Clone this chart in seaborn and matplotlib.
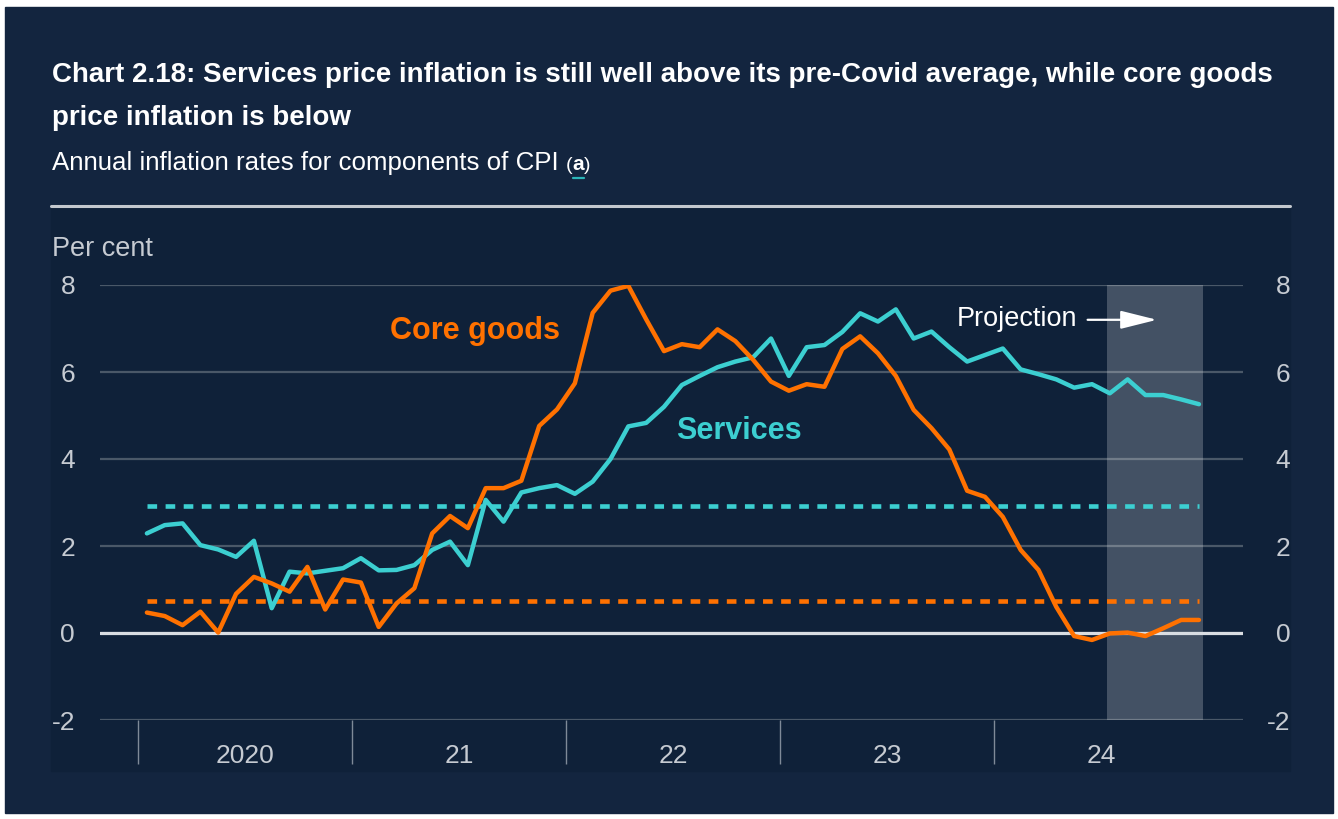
import matplotlib
matplotlib.use("Agg")
import numpy as np
import pandas as pd
import seaborn as sns
import matplotlib.pyplot as plt
from matplotlib.patches import Rectangle
from matplotlib.lines import Line2D

# monthly data, Jan 2020 - Dec 2024 (per cent)
services = [2.29, 2.48, 2.52, 2.02, 1.92, 1.75, 2.12, 0.57, 1.41, 1.37, 1.43, 1.49,
            1.72, 1.44, 1.45, 1.56, 1.91, 2.10, 1.56, 3.06, 2.56, 3.23, 3.33, 3.40,
            3.20, 3.48, 4.00, 4.75, 4.83, 5.20, 5.70, 5.91, 6.11, 6.24, 6.34, 6.77,
            5.91, 6.57, 6.62, 6.92, 7.35, 7.16, 7.44, 6.77, 6.93, 6.57, 6.24, 6.39,
            6.54, 6.06, 5.95, 5.83, 5.64, 5.72, 5.51, 5.83, 5.47, 5.47, 5.37, 5.26]
core_goods = [0.47, 0.39, 0.18, 0.49, 0.01, 0.90, 1.29, 1.14, 0.95, 1.52, 0.54, 1.23,
              1.16, 0.14, 0.68, 1.03, 2.29, 2.69, 2.41, 3.33, 3.33, 3.50, 4.76, 5.14,
              5.74, 7.36, 7.87, 7.98, 7.21, 6.48, 6.64, 6.57, 6.98, 6.71, 6.28, 5.78,
              5.57, 5.72, 5.66, 6.53, 6.82, 6.43, 5.91, 5.13, 4.71, 4.22, 3.27, 3.13,
              2.67, 1.91, 1.45, 0.60, -0.07, -0.16, -0.01, 0.01, -0.07, 0.11, 0.30, 0.30]
services_avg = 2.92      # pre-Covid averages
core_goods_avg = 0.74
year_labels = ["2020", "21", "22", "23", "24"]
y_ticks = [-2, 0, 2, 4, 6, 8]
projection_start, projection_end = 53.83, 59.25

BG = "#13253f"
PANEL = "#0f2139"
ORANGE = "#ff7100"
TEAL = "#3ccfd1"
GRID = "#4a5868"
TXT = "#c6cbd2"

W, H = 1338, 819
def fx(px):
    return px / W
def fy(py):
    return 1 - py / H

sns.set_theme(style="white")
plt.rcParams['font.family'] = ['Liberation Sans', 'DejaVu Sans']
plt.rcParams['axes.unicode_minus'] = False

df = pd.DataFrame({"month": np.arange(len(services)),
                   "Services": services, "Core goods": core_goods})

fig = plt.figure(figsize=(W / 100, H / 100), dpi=100, facecolor="white")
fig.patches.append(Rectangle((fx(5), fy(813)), fx(1333) - fx(5), fy(7) - fy(813),
                             transform=fig.transFigure, color=BG, zorder=-2))
fig.patches.append(Rectangle((fx(51), fy(771)), fx(1290) - fx(51), fy(207) - fy(771),
                             transform=fig.transFigure, color=PANEL, zorder=-1))
fig.lines.append(Line2D([fx(51), fx(1290)], [fy(206), fy(206)], transform=fig.transFigure,
                        color="#c3c8ce", lw=2.2))

ax = fig.add_axes([fx(100), fy(720), fx(1243) - fx(100), fy(285) - fy(720)])
ax.set_facecolor("none")
for s in ax.spines.values():
    s.set_visible(False)

ax.set_ylim(-2, 8)
ax.set_xlim(-2.63, 61.47)
ax.set_yticks(y_ticks)
ax.yaxis.grid(True, color=GRID, lw=1.6)
ax.set_axisbelow(True)
ax.tick_params(axis="y", length=0, labelsize=19, labelcolor=TXT, pad=18)

# right-hand axis labels, right aligned at the panel edge
ax2 = ax.twinx()
ax2.set_ylim(-2, 8)
ax2.set_yticks(y_ticks)
ax2.grid(False)
for s in ax2.spines.values():
    s.set_visible(False)
ax2.tick_params(axis="y", length=0, labelsize=19, labelcolor=TXT, pad=34)
for lab in ax2.get_yticklabels():
    lab.set_horizontalalignment("right")

# year separators and labels
starts = np.arange(len(year_labels)) * 12 - 0.5
mids = starts + 6
ax.set_xticks(starts, labels=[""] * len(starts))
ax.set_xticks(mids, labels=year_labels, minor=True)
ax.tick_params(axis="x", which="major", bottom=True, length=32, width=1, color="#7f8a98")
ax.tick_params(axis="x", which="minor", bottom=True, length=0, pad=17,
               labelsize=19, labelcolor=TXT)

ax.axhline(0, color="#d9dde2", lw=2.3, zorder=2)
ax.axvspan(projection_start, projection_end, color="white", alpha=0.22, lw=0, zorder=1.5)

m = df["month"]
ax.hlines(services_avg, m.iloc[0], m.iloc[-1], colors=TEAL, lw=3.3,
          linestyles=(0, (2.1, 1.85)), zorder=3)
ax.hlines(core_goods_avg, m.iloc[0], m.iloc[-1], colors=ORANGE, lw=3.3,
          linestyles=(0, (2.1, 1.85)), zorder=3)

sns.lineplot(data=df, x="month", y="Services", color=TEAL, lw=3.2, ax=ax, zorder=4)
sns.lineplot(data=df, x="month", y="Core goods", color=ORANGE, lw=3.2, ax=ax, zorder=5)
ax.set_xlabel("")
ax.set_ylabel("")

ax.text(13.63, 6.94, "Core goods", color=ORANGE, fontsize=22, fontweight="bold", va="center")
ax.text(29.67, 4.64, "Services", color=TEAL, fontsize=22, fontweight="bold", va="center")
ax.text(45.43, 7.22, "Projection", color="white", fontsize=19.5, va="center")
ax.annotate("", xy=(56.8, 7.2), xytext=(52.6, 7.2),
            arrowprops=dict(arrowstyle="-|>,head_length=1.4,head_width=0.35",
                            color="white", lw=1.6, mutation_scale=16))

fig.text(fx(52), fy(249), "Per cent", color=TXT, fontsize=19.5, va="center")

fig.text(fx(52), fy(75), "Chart 2.18: Services price inflation is still well above its "
         "pre-Covid average, while core goods", color="white", fontsize=20,
         fontweight="bold", va="center")
fig.text(fx(52), fy(118), "price inflation is below", color="white", fontsize=20,
         fontweight="bold", va="center")
sub = fig.text(fx(52), fy(163), "Annual inflation rates for components of CPI ",
               color="white", fontsize=18.6, va="center")

fig.canvas.draw()
r = fig.canvas.get_renderer()
x0 = sub.get_window_extent(r).x1
p1 = fig.text(x0 / W, fy(165), "(", color="white", fontsize=14, va="center")
x1 = p1.get_window_extent(r).x1
a = fig.text(x1 / W, fy(164), "a", color="white", fontsize=15, fontweight="bold", va="center")
ea = a.get_window_extent(r)
fig.text(ea.x1 / W, fy(165), ")", color="white", fontsize=14, va="center")
fig.lines.append(Line2D([ea.x0 / W, ea.x1 / W], [fy(178), fy(178)], transform=fig.transFigure,
                        color="#2bb5b8", lw=1.6))

fig.savefig("out.png", dpi=100, facecolor=fig.get_facecolor())
